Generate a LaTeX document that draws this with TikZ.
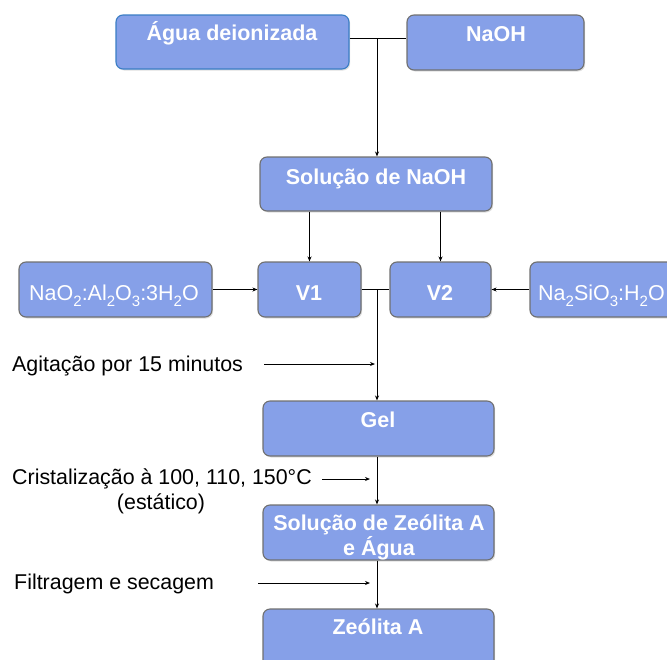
\documentclass[tikz,border=0pt]{standalone}
\usepackage{fontspec}
\setmainfont{Liberation Sans}
\usetikzlibrary{arrows.meta,shadows}
\definecolor{boxfill}{RGB}{134,160,232}
\definecolor{boxedge}{RGB}{112,112,112}
\definecolor{blueedge}{RGB}{58,125,196}
\newcommand{\sbt}[1]{\raisebox{-0.28em}{\fontsize{15}{15}\selectfont #1}}
\begin{document}
\begin{tikzpicture}[x=1pt,y=-1pt,
  box/.style={draw=boxedge, line width=1.1pt, fill=boxfill, rounded corners=7pt,
    drop shadow={shadow xshift=1.2pt, shadow yshift=-1.5pt, opacity=0.25}},
  btxt/.style={text=white, font=\bfseries\fontsize{21.5}{24}\selectfont, anchor=base, inner sep=0pt},
  rtxt/.style={text=white, font=\fontsize{21.5}{24}\selectfont, anchor=base, inner sep=0pt},
  ltxt/.style={text=black, font=\fontsize{21.4}{24}\selectfont, anchor=base west, inner sep=0pt},
  conn/.style={draw=black, line width=0.9pt},
  arr/.style={conn, -{Stealth[length=5pt,width=4pt]}}
]
\useasboundingbox (0,0) rectangle (667,659);
% boxes
\node[box, draw=blueedge, minimum width=233pt, minimum height=54pt] (agua) at (232.5,42) {};
\node[box, minimum width=177pt, minimum height=55pt] (naoh) at (495.5,42.5) {};
\node[box, minimum width=232pt, minimum height=54pt] (sol) at (376,184) {};
\node[box, minimum width=103pt, minimum height=55pt] (v1) at (309.5,289.5) {};
\node[box, minimum width=101pt, minimum height=55pt] (v2) at (440.5,289.5) {};
\node[box, minimum width=193pt, minimum height=55pt] (nao) at (115.5,289.5) {};
\node[box, minimum width=170pt, minimum height=55pt] (nasi) at (615,289.5) {};
\node[box, minimum width=231pt, minimum height=55pt] (gel) at (378.5,428.5) {};
\node[box, minimum width=231pt, minimum height=55pt] (zsol) at (378.5,532.5) {};
\node[box, minimum width=231pt, minimum height=70pt] (zeo) at (378.5,644) {};
% box texts
\node[btxt] (taguas) at (232,40) {Água deionizada};
\node[btxt] (tnaoh) at (496,41) {NaOH};
\node[btxt] (tsol) at (376,184) {Solução de NaOH};
\node[btxt] (tv1) at (309,300) {V1};
\node[btxt] (tv2) at (440,300) {V2};
\node[rtxt] (tnao) at (114,300) {NaO\sbt{2}:Al\sbt{2}O\sbt{3}:3H\sbt{2}O};
\node[rtxt, anchor=base west] (tnasi) at (538,300) {Na\sbt{2}SiO\sbt{3}:H\sbt{2}O};
\node[btxt] (tgel) at (378,427) {Gel};
\node[btxt] (tzsol1) at (379,530) {Solução de Zeólita A};
\node[btxt] (tzsol2) at (379,555) {e Água};
\node[btxt] (tzeo) at (378,634) {Zeólita A};
% side labels
\node[ltxt] (lagit) at (12,371) {Agitação por 15 minutos};
\node[ltxt] (lcrist) at (12,484) {Cristalização à 100, 110, 150°C};
\node[text=black, font=\fontsize{21.4}{24}\selectfont, anchor=base, inner sep=0pt] (lest) at (161,509) {(estático)};
\node[ltxt] (lfilt) at (14,589) {Filtragem e secagem};
% connectors
\coordinate (j1) at (377,38);
\draw[conn] (j1 -| agua.east) -- (j1 -| naoh.west);
\draw[arr] (j1) -- (j1 |- sol.north);
\draw[arr] (sol.south -| v1.north) -- (v1.north);
\draw[arr] (sol.south -| v2.north) -- (v2.north);
\draw[arr] (nao.east) -- (v1.west);
\draw[arr] (nasi.west) -- (v2.east);
\coordinate (j2) at (377,289.5);
\draw[conn] (v1.east) -- (v2.west);
\draw[arr] (j2) -- (j2 |- gel.north);
\coordinate (s1) at (264,364);
\coordinate (e1) at (375,364);
\draw[arr] (s1) -- (e1);
\draw[arr] (gel.south -| j2) -- (zsol.north -| j2);
\coordinate (s2) at (322,479);
\coordinate (e2) at (370,479);
\draw[arr] (s2) -- (e2);
\draw[arr] (zsol.south -| j2) -- (zeo.north -| j2);
\coordinate (s3) at (258,583);
\coordinate (e3) at (370,583);
\draw[arr] (s3) -- (e3);
\end{tikzpicture}
\end{document}
